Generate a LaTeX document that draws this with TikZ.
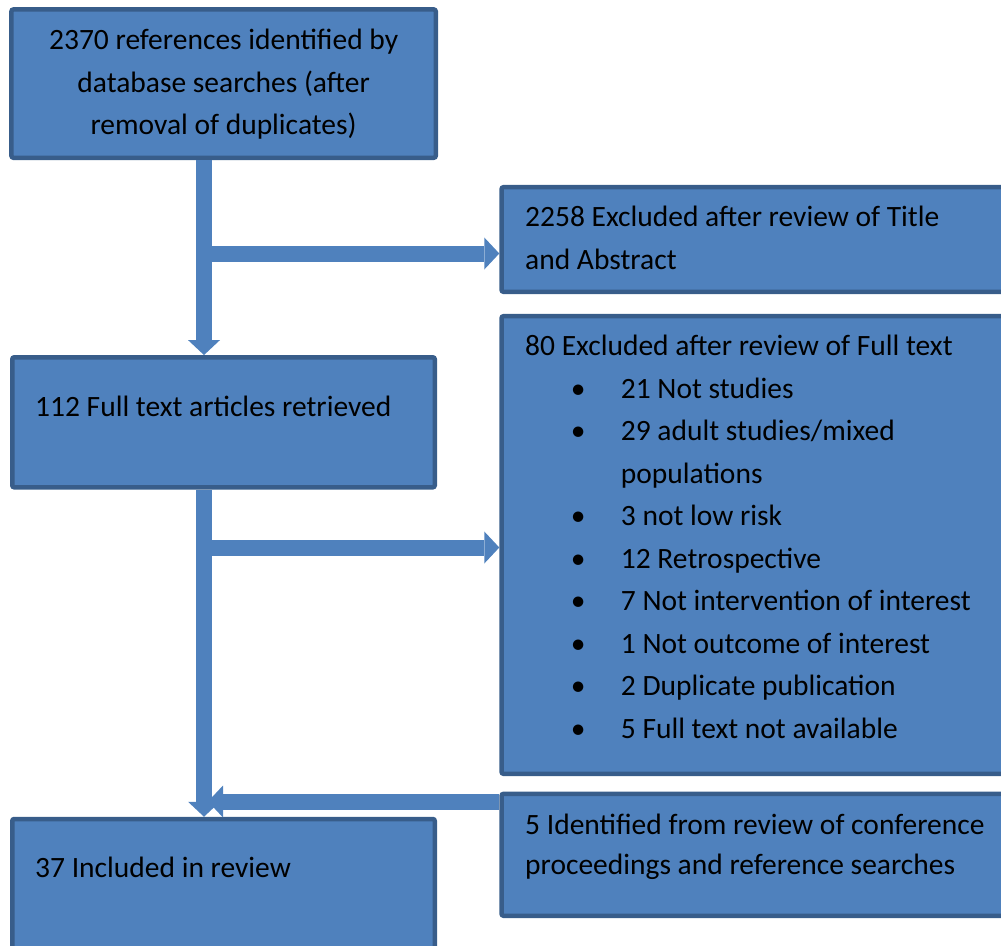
\documentclass[tikz,border=0pt]{standalone}
\usepackage{fontspec}
\setmainfont{Carlito}
\usetikzlibrary{arrows.meta}

\definecolor{boxfill}{HTML}{4F81BD}
\definecolor{boxline}{HTML}{385D8A}
\newcommand{\bitem}[1]{\makebox[95.7pt][l]{\hspace{53pt}\makebox[0pt]{\textbullet}}#1}

\begin{document}
\begin{tikzpicture}[x=1pt,y=1pt,
        box/.style={draw=boxline,fill=boxfill,line width=4.5pt,rounded corners=2pt,inner sep=0pt},
        flow/.style={draw=boxfill,line width=16pt,-{Triangle[width=32pt,length=15pt,line width=0pt]}},
        txt/.style={inner sep=0pt,font=\fontsize{29.5}{42.5}\selectfont}]
        \useasboundingbox (0,0) rectangle (1001,-945);
        \clip (0,0) rectangle (1001,-945);

        % left column
        \node[box,minimum width=424.3pt,minimum height=148.3pt] (refs) at (223.6,-83.6) {};
        \node[box,minimum width=422.5pt,minimum height=130pt] (full) at (223.5,-422.3) {};
        \node[box,minimum width=422.5pt,minimum height=136pt] (incl) at (223.5,-887) {};

        % right column
        \node[box,minimum width=518.5pt,minimum height=104.6pt] (excla) at (760.8,-239.5) {};
        \node[box,minimum width=518.5pt,minimum height=457.6pt] (exclb) at (760.8,-545) {};
        \node[box,minimum width=518.5pt,minimum height=121.9pt] (other) at (760.8,-854.8) {};

        % texts
        \node[txt,anchor=base] (refstxt) at ([yshift=-42.7pt]refs.north)
            {\begin{tabular}[t]{@{}c@{}}2370 references identified by\\ database searches (after\\ removal of duplicates)\end{tabular}};
        \node[txt,anchor=base west] (fulltxt) at ([shift={(25,-61)}]full.north west)
            {112 Full text articles retrieved};
        \node[txt,anchor=base west] (incltxt) at ([shift={(25,-60.3)}]incl.north west)
            {37 Included in review};
        \node[txt,anchor=base west] (exclatxt) at ([shift={(25.7,-41.7)}]excla.north west)
            {\begin{tabular}[t]{@{}l@{}}2258 Excluded after review of Title\\ and Abstract\end{tabular}};
        \node[txt,anchor=base west] (exclbtxt) at ([shift={(25.7,-42)}]exclb.north west)
            {\begin{tabular}[t]{@{}l@{}}80 Excluded after review of Full text\\
                \bitem{21 Not studies}\\
                \bitem{29 adult studies/mixed}\\
                \hspace*{95.7pt}populations\\
                \bitem{3 not low risk}\\
                \bitem{12 Retrospective}\\
                \bitem{7 Not intervention of interest}\\
                \bitem{1 Not outcome of interest}\\
                \bitem{2 Duplicate publication}\\
                \bitem{5 Full text not available}\end{tabular}};
        \node[txt,font=\fontsize{29.5}{40}\selectfont,anchor=base west] (othertxt) at ([shift={(25.7,-42.5)}]other.north west)
            {\begin{tabular}[t]{@{}l@{}}5 Identified from review of conference\\ proceedings and reference searches\end{tabular}};

        % arrows
        \coordinate (spine) at (204,0);
        \coordinate (ja) at (204,-253.5);
        \coordinate (jb) at (204,-547.5);
        \coordinate (jc) at (208,-801.5);
        \draw[flow] (refs.south -| spine) -- (full.north -| spine);
        \draw[flow] (ja) -- (ja -| excla.west);
        \draw[flow] (full.south -| spine) -- (incl.north -| spine);
        \draw[flow] (jb) -- (jb -| exclb.west);
        \draw[flow] (jc -| other.west) -- (jc);
    \end{tikzpicture}
\end{document}
